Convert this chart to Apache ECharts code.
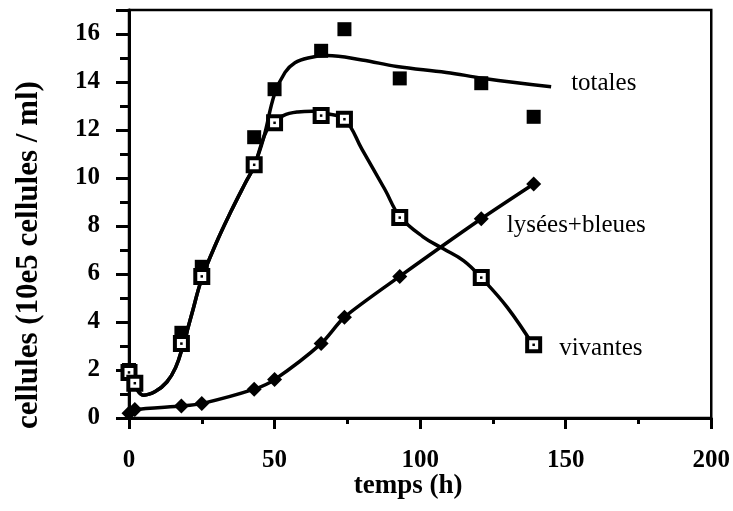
<!DOCTYPE html>
<html>
<head>
<meta charset="utf-8">
<script src="https://cdn.jsdelivr.net/npm/echarts@6/dist/echarts.min.js"></script>
<style>
  html, body { margin: 0; padding: 0; background: #fff; }
  #chart { width: 733px; height: 511px; }
</style>
</head>
<body>
<div id="chart"></div>
<script>
// Sampling times (h) and measured cell counts (10e5 cellules / ml)
const temps = [0, 2, 18, 25, 43, 50, 66, 74, 93, 121, 139];
const totales = [2.0, 1.5, 3.55, 6.3, 11.7, 13.7, 15.3, 16.2, 14.15, 13.95, 12.55];
const vivantes = [1.9, 1.45, 3.1, 5.9, 10.55, 12.3, 12.6, 12.45, 8.35, 5.85, 3.05];
const lysees = [0.2, 0.35, 0.5, 0.6, 1.2, 1.6, 3.1, 4.2, 5.9, 8.3, 9.75];

// Hand-fitted trend curves (time, value)
const tempsCourbeTotales = [0, 2, 5, 9, 13, 16, 18.5, 21.5, 25, 30, 35, 40, 43, 46.3, 50, 53.6, 57, 61.5, 68, 80, 92, 109, 122, 145];
const courbeTotales = [1.9, 1.35, 0.95, 1.1, 1.5, 2.1, 3.0, 4.3, 5.8, 7.3, 8.6, 9.8, 10.5, 11.7, 13.5, 14.4, 14.8, 15.0, 15.1, 14.92, 14.65, 14.4, 14.15, 13.8];
const tempsCourbeVivantes = [0, 2, 5, 9, 13, 16, 18.5, 21.5, 25, 30, 35, 40, 43, 46.3, 48.5, 53, 58, 63, 67, 74, 80, 88, 93, 101, 108, 115, 121, 130, 139];
const courbeVivantes = [1.9, 1.35, 0.95, 1.1, 1.5, 2.1, 3.0, 4.3, 5.8, 7.3, 8.6, 9.8, 10.5, 11.7, 12.2, 12.6, 12.75, 12.78, 12.7, 12.45, 11.2, 9.5, 8.4, 7.55, 7.05, 6.55, 5.85, 4.6, 3.0];

// Axis tick values
const xTicks = [0, 50, 100, 150, 200];
const yTicks = [0, 2, 4, 6, 8, 10, 12, 14, 16];

const serif = '"Liberation Serif", "DejaVu Serif", serif';
const zip = (xs, ys) => xs.map((x, i) => [x, ys[i]]);

const labelFont = { color: '#000', fontFamily: serif, fontSize: 25, opacity: 1 };

const lyseesData = zip(temps, lysees).map((p, i) =>
  i === 9 ? {
    value: p,
    label: Object.assign({
      show: true, position: 'right', distance: 18, offset: [0, 7],
      formatter: 'lysées+bleues'
    }, labelFont)
  } : p);

const vivantesData = zip(temps, vivantes).map((p, i) =>
  i === temps.length - 1 ? {
    value: p,
    label: Object.assign({
      show: true, position: 'right', distance: 17, offset: [0, 4],
      formatter: 'vivantes'
    }, labelFont)
  } : p);

const chart = echarts.init(document.getElementById('chart'), null, { renderer: 'canvas' });

const axisFont = { color: '#000', fontFamily: serif, fontWeight: 'bold', fontSize: 25 };

chart.setOption({
  animation: false,
  backgroundColor: '#fff',
  grid: {
    left: 129, right: 16, top: 10, bottom: 93,
    show: true, borderColor: '#000', borderWidth: 2.5, backgroundColor: 'transparent'
  },
  xAxis: {
    type: 'value', min: xTicks[0], max: xTicks[xTicks.length - 1], interval: 50,
    axisLine: { lineStyle: { color: '#000', width: 3 } },
    axisTick: { length: 11, lineStyle: { color: '#000', width: 3 } },
    minorTick: { show: true, splitNumber: 2, length: 6, lineStyle: { color: '#000', width: 3 } },
    splitLine: { show: false },
    axisLabel: Object.assign({ margin: 30 }, axisFont),
    name: 'temps (h)', nameLocation: 'middle', nameGap: 55, nameMoveOverlap: false,
    nameTextStyle: { color: '#000', fontFamily: serif, fontWeight: 'bold', fontSize: 27, padding: [0, 24, 0, 0] }
  },
  yAxis: {
    type: 'value', min: yTicks[0], max: 17, interval: 2,
    axisLine: { lineStyle: { color: '#000', width: 3 } },
    axisTick: { length: 13, lineStyle: { color: '#000', width: 3 } },
    minorTick: { show: true, splitNumber: 2, length: 9, lineStyle: { color: '#000', width: 3 } },
    splitLine: { show: false },
    axisLabel: Object.assign({ margin: 29, showMaxLabel: false,
      formatter: v => (yTicks.indexOf(v) >= 0 ? String(v) : '') }, axisFont),
    name: 'cellules (10e5 cellules / ml)', nameLocation: 'middle', nameGap: 85,
    nameTextStyle: { color: '#000', fontFamily: serif, fontWeight: 'bold', fontSize: 31, padding: [0, 82, 0, 0] }
  },
  series: [
    {
      name: 'totales', type: 'line', smooth: 0.4, showSymbol: false,
      data: zip(tempsCourbeTotales, courbeTotales),
      lineStyle: { color: '#000', width: 3.5 },
      endLabel: Object.assign({
        show: true, formatter: 'totales', distance: 20, offset: [0, -3]
      }, labelFont),
      z: 2
    },
    {
      name: 'vivantes', type: 'line', smooth: 0.4, showSymbol: false,
      data: zip(tempsCourbeVivantes, courbeVivantes),
      lineStyle: { color: '#000', width: 3.5 },
      z: 2
    },
    {
      name: 'lysées+bleues', type: 'line', smooth: 0.25,
      symbol: 'diamond', symbolSize: 15,
      data: lyseesData,
      lineStyle: { color: '#000', width: 3.5 },
      itemStyle: { color: '#000', opacity: 1 },
      z: 3
    },
    {
      name: 'totales (mesures)', type: 'scatter', symbol: 'rect', symbolSize: 14,
      data: zip(temps, totales),
      itemStyle: { color: '#000', opacity: 1 },
      z: 4
    },
    {
      name: 'vivantes (mesures)', type: 'scatter', symbol: 'rect', symbolSize: 13,
      data: vivantesData,
      itemStyle: { color: '#fff', borderColor: '#000', borderWidth: 4, opacity: 1 },
      z: 5
    },
    {
      name: 'vivantes (centre)', type: 'scatter', symbol: 'rect', symbolSize: 2.5,
      data: zip(temps, vivantes),
      itemStyle: { color: '#000', opacity: 1 },
      silent: true,
      z: 6
    }
  ]
});
</script>
</body>
</html>
